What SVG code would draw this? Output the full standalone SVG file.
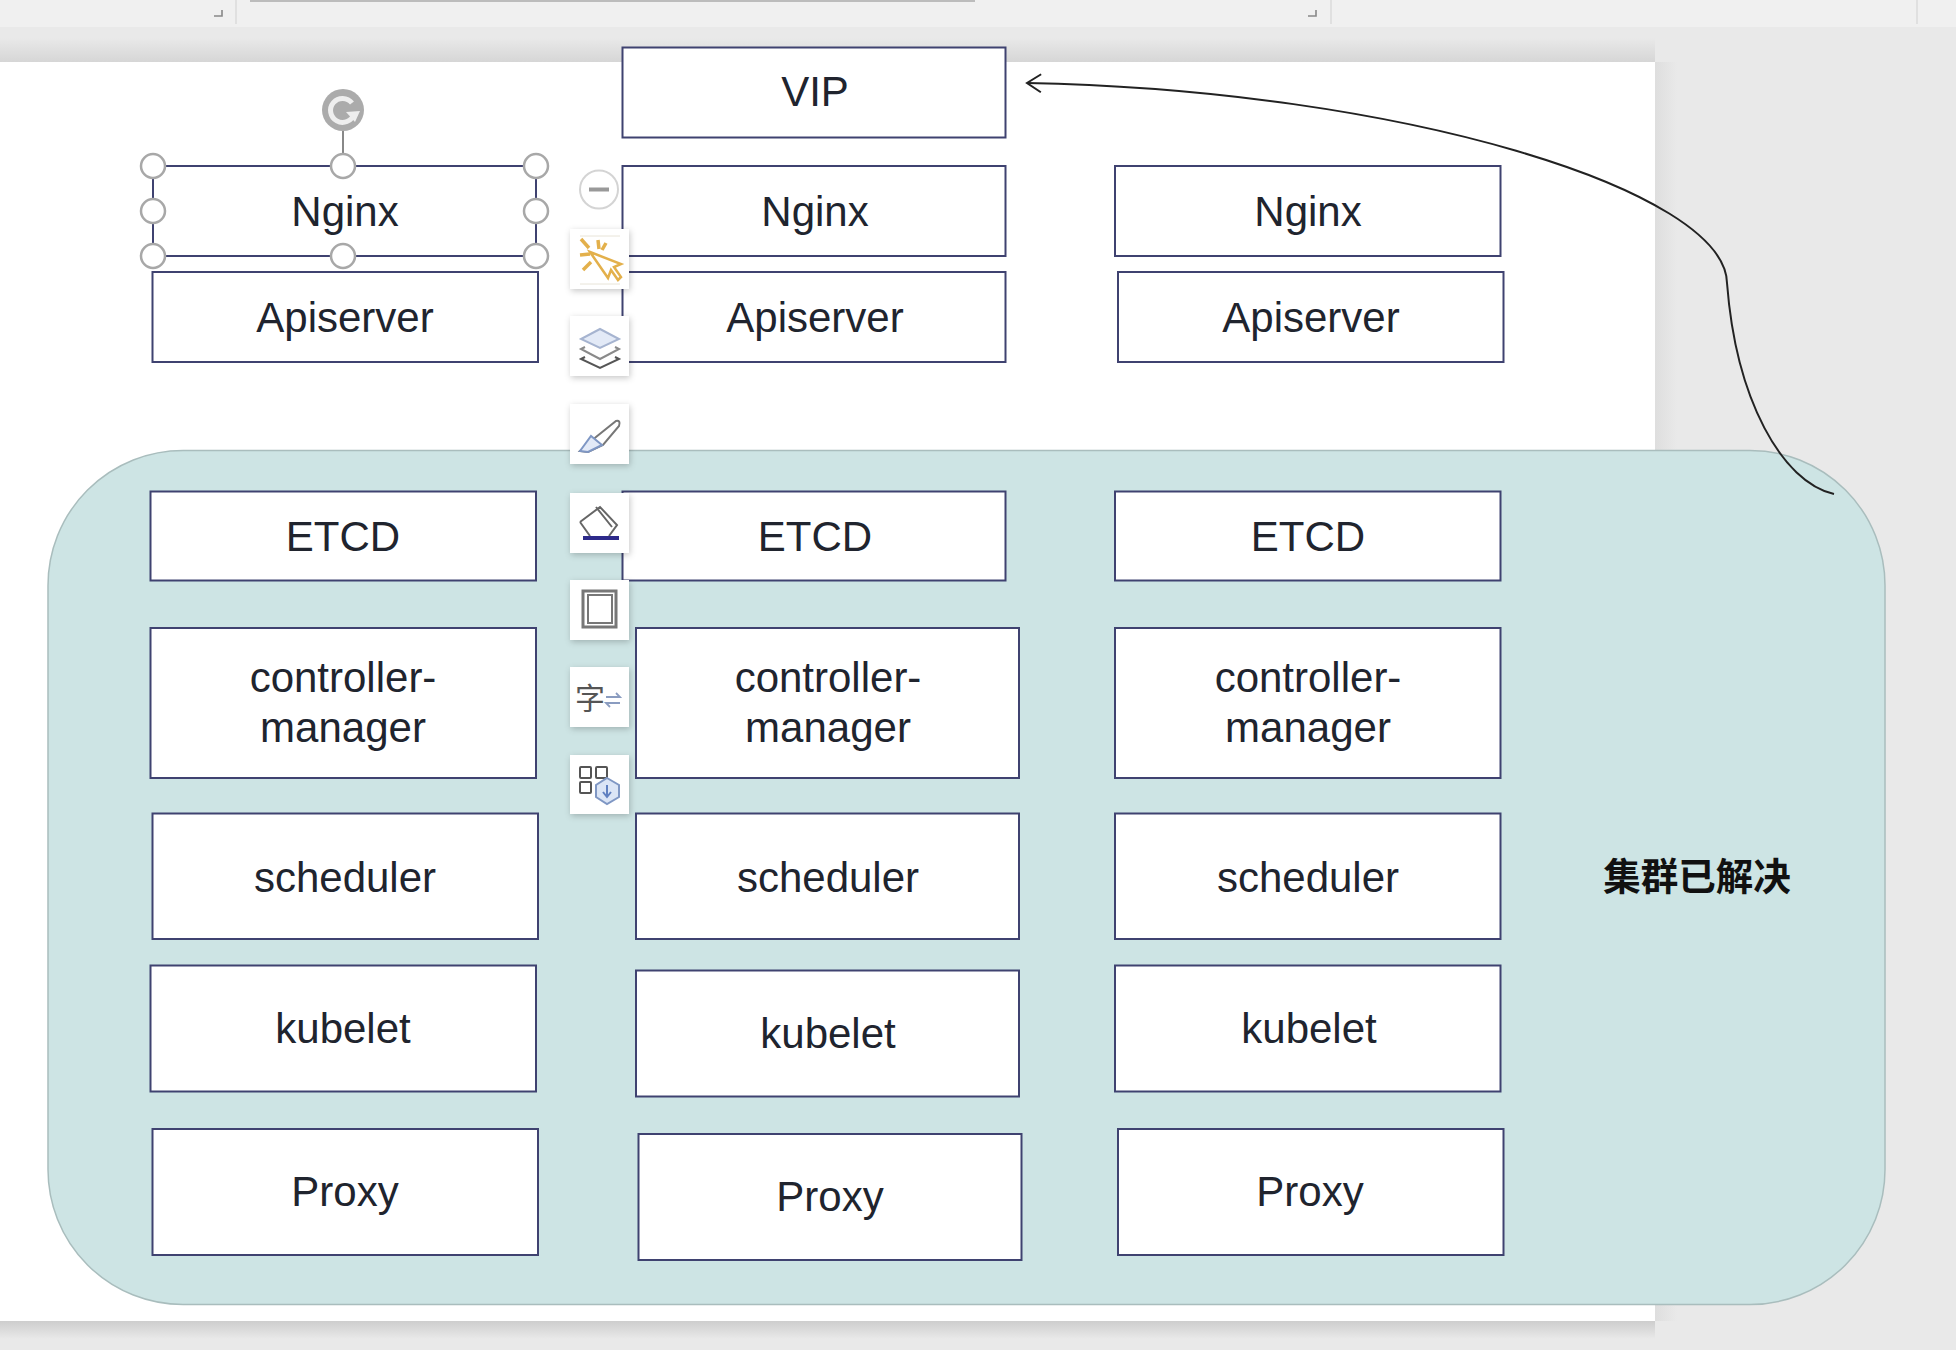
<svg xmlns="http://www.w3.org/2000/svg" width="1956" height="1350" viewBox="0 0 1956 1350">
<style>
.n{fill:#fff;stroke:#3f4270;stroke-width:2}
.t{font-family:"Liberation Sans",Arial,sans-serif;font-size:42px;fill:#20242e;text-anchor:middle}
.h{fill:#fff;stroke:#a8a8a8;stroke-width:2.5}
.tb{fill:#fff;filter:url(#sh)}
.i{fill:none;stroke:#555;stroke-width:2}
</style>
<defs>
<linearGradient id="gt" x1="0" y1="0" x2="0" y2="1"><stop offset="0" stop-color="#e9e9e9"/><stop offset="1" stop-color="#d6d6d6"/></linearGradient>
<linearGradient id="gb" x1="0" y1="0" x2="0" y2="1"><stop offset="0" stop-color="#cdcdcd"/><stop offset="1" stop-color="#e9e9e9"/></linearGradient>
<linearGradient id="gr" x1="0" y1="0" x2="1" y2="0"><stop offset="0" stop-color="#dedede"/><stop offset="1" stop-color="#e9e9e9"/></linearGradient>
<filter id="sh" x="-20%" y="-20%" width="140%" height="140%"><feDropShadow dx="1" dy="2" stdDeviation="3" flood-color="#000" flood-opacity="0.22"/></filter>
<marker id="arr" markerWidth="22" markerHeight="22" refX="20" refY="11" orient="auto" markerUnits="userSpaceOnUse"><path d="M6 2 L20 11 L6 20" fill="none" stroke="#222" stroke-width="2"/></marker>
</defs>
<g id="background">
<rect width="1956" height="1350" fill="#e9e9e9"/>
<rect width="1956" height="27" fill="#f0f0f0"/>
<rect x="250" y="0" width="725" height="2" fill="#bcbcbc"/>
<path d="M236 0V24M1331 0V24M1917 0V24" stroke="#e0e0e0" stroke-width="2" fill="none"/>
<path d="M222 10V16H214M1316 10V16H1308" stroke="#888" stroke-width="1.6" fill="none"/>
<rect x="0" y="38" width="1655" height="24" fill="url(#gt)"/>
<rect x="1655" y="62" width="22" height="1259" fill="url(#gr)"/>
<rect x="0" y="1321" width="1655" height="18" fill="url(#gb)"/>
<rect x="0" y="62" width="1655" height="1259" fill="#fff"/>
</g>
<g id="cluster">
<rect x="48" y="450.5" width="1837" height="854" rx="135" ry="135" fill="#cde4e4" stroke="#a9bdbd" stroke-width="1.5"/>
<text x="1697" y="890" style="font-family:'Noto Sans CJK SC',sans-serif;font-size:37.5px;font-weight:700;fill:#111;text-anchor:middle">集群已解决</text>
</g>
<g id="vip"><rect class="n" x="622.5" y="47.5" width="383" height="90"/><text class="t" x="815" y="106">VIP</text></g>
<g id="nginx-1"><rect class="n" x="153" y="166" width="383" height="90"/><text class="t" x="345" y="226">Nginx</text></g>
<g id="nginx-2"><rect class="n" x="622.5" y="166" width="383" height="90"/><text class="t" x="815" y="226">Nginx</text></g>
<g id="nginx-3"><rect class="n" x="1115" y="166" width="385.500" height="90"/><text class="t" x="1308" y="226">Nginx</text></g>
<g id="apiserver-1"><rect class="n" x="152.500" y="272" width="385.500" height="90"/><text class="t" x="345" y="332">Apiserver</text></g>
<g id="apiserver-2"><rect class="n" x="622.5" y="272" width="383" height="90"/><text class="t" x="815" y="332">Apiserver</text></g>
<g id="apiserver-3"><rect class="n" x="1118" y="272" width="385.500" height="90"/><text class="t" x="1311" y="332">Apiserver</text></g>
<g id="etcd-1"><rect class="n" x="150.500" y="491.500" width="385.500" height="89"/><text class="t" x="343" y="551">ETCD</text></g>
<g id="etcd-2"><rect class="n" x="622.5" y="491.500" width="383" height="89"/><text class="t" x="815" y="551">ETCD</text></g>
<g id="etcd-3"><rect class="n" x="1115" y="491.500" width="385.500" height="89"/><text class="t" x="1308" y="551">ETCD</text></g>
<g id="controller-manager-1"><rect class="n" x="150.500" y="628" width="385.500" height="150"/><text class="t" x="343" y="692">controller-</text><text class="t" x="343" y="742">manager</text></g>
<g id="controller-manager-2"><rect class="n" x="636" y="628" width="383" height="150"/><text class="t" x="828" y="692">controller-</text><text class="t" x="828" y="742">manager</text></g>
<g id="controller-manager-3"><rect class="n" x="1115" y="628" width="385.500" height="150"/><text class="t" x="1308" y="692">controller-</text><text class="t" x="1308" y="742">manager</text></g>
<g id="scheduler-1"><rect class="n" x="152.500" y="813.500" width="385.500" height="125.500"/><text class="t" x="345" y="892">scheduler</text></g>
<g id="scheduler-2"><rect class="n" x="636" y="813.500" width="383" height="125.500"/><text class="t" x="828" y="892">scheduler</text></g>
<g id="scheduler-3"><rect class="n" x="1115" y="813.500" width="385.500" height="125.500"/><text class="t" x="1308" y="892">scheduler</text></g>
<g id="kubelet-1"><rect class="n" x="150.500" y="965.500" width="385.500" height="126"/><text class="t" x="343" y="1043">kubelet</text></g>
<g id="kubelet-2"><rect class="n" x="636" y="970.500" width="383" height="126"/><text class="t" x="828" y="1048">kubelet</text></g>
<g id="kubelet-3"><rect class="n" x="1115" y="965.500" width="385.500" height="126"/><text class="t" x="1309" y="1043">kubelet</text></g>
<g id="proxy-1"><rect class="n" x="152.500" y="1129" width="385.500" height="126"/><text class="t" x="345" y="1206">Proxy</text></g>
<g id="proxy-2"><rect class="n" x="638.500" y="1134" width="383" height="126"/><text class="t" x="830" y="1211">Proxy</text></g>
<g id="proxy-3"><rect class="n" x="1118" y="1129" width="385.500" height="126"/><text class="t" x="1310" y="1206">Proxy</text></g>
<g id="connectors">
<path d="M1834 494 C1782 482 1736 400 1727 283 C1725 190 1400 90 1027 83" fill="none" stroke="#222" stroke-width="2" marker-end="url(#arr)"/>
</g>
<g id="selection-handles">
<line x1="343" y1="130" x2="343" y2="166" stroke="#888" stroke-width="2"/>
<circle cx="343" cy="110" r="21" fill="#ababab"/>
<path d="M352 103 A12 12 0 1 0 354 114" fill="none" stroke="#eee" stroke-width="5"/>
<path d="M346 112 L360 111 L355 122 Z" fill="#eee"/>
<circle class="h" cx="153" cy="166" r="12"/><circle class="h" cx="343" cy="166" r="12"/><circle class="h" cx="536" cy="166" r="12"/>
<circle class="h" cx="153" cy="211" r="12"/><circle class="h" cx="536" cy="211" r="12"/>
<circle class="h" cx="153" cy="256" r="12"/><circle class="h" cx="343" cy="256" r="12"/><circle class="h" cx="536" cy="256" r="12"/>
</g>
<g id="toolbar">
<circle cx="599" cy="189.500" r="19" fill="#fff" stroke="#d4d4d4" stroke-width="2"/>
<line x1="589" y1="189.500" x2="609" y2="189.500" stroke="#999" stroke-width="4"/>
<rect class="tb" x="570" y="229" width="59" height="60"/>
<rect class="tb" x="570" y="316" width="59" height="60"/>
<rect class="tb" x="570" y="404" width="59" height="60"/>
<rect class="tb" x="570" y="493" width="59" height="60"/>
<rect class="tb" x="570" y="580" width="59" height="60"/>
<rect class="tb" x="570" y="667" width="59" height="60"/>
<rect class="tb" x="570" y="755" width="59" height="59"/>
<g fill="none" stroke="#e3b04b" stroke-width="2.500">
<path d="M590 252 L608 278 L611 270 L618 280 L621 277 L614 267 L621 264 Z"/>
<path d="M581 239 L589 248M598 240 L599 249M580 255 L590 254M583 270 L591 262M606 243 L602 250" stroke-width="3.500"/>
<path d="M580 236 H620M580 284 H620" stroke="#e8e4d8" stroke-width="1"/>
</g>
<g fill="none" stroke="#555" stroke-width="2">
<path d="M600 329 L619 339 L600 348 L581 339 Z" fill="#e3eaf7" stroke="#a6b4d0"/>
<path d="M585 347 L581 349 L600 359 L619 349 L615 347" stroke="#8a8a8a"/>
<path d="M585 357 L581 359 L600 368 L619 359 L615 357"/>
</g>
<path d="M580 451 L596 437 L616 421 Q621 420 619 426 L603 445 L588 452 Z" fill="#fff" stroke="#777" stroke-width="2"/>
<path d="M580 451 L591 436 L602 445 L588 452 Z" fill="#e3eaf7" stroke="#7f97c4" stroke-width="2"/>
<g fill="none" stroke="#666" stroke-width="2">
<path d="M580 522 L600 507 L617 525 L609 536M580 522 L590 536M596 507 L612 527"/>
</g>
<rect x="583" y="536" width="36" height="4" fill="#2d2a8a"/>
<rect x="583" y="591" width="33" height="36" fill="none" stroke="#777" stroke-width="3"/>
<rect x="588" y="595" width="24" height="28" fill="none" stroke="#777" stroke-width="2"/>
<text x="590" y="709" style="font-family:'Noto Sans CJK SC',sans-serif;font-size:30px;fill:#555;text-anchor:middle">字</text>
<path d="M606 697 H620 L616 693M620 703 H606 L610 707" fill="none" stroke="#8a9cc0" stroke-width="1.800"/>
<g fill="none" stroke="#555" stroke-width="2">
<rect x="580" y="767" width="11" height="11" rx="1"/><rect x="596" y="767" width="11" height="11" rx="1"/><rect x="580" y="782" width="11" height="11" rx="1"/>
<path d="M607 778 L619 785 V797 L607 804 L596 797 V785 Z" fill="#dbe5f6" stroke="#7f97c4"/>
<path d="M607 785 V796 M603 792 L607 797 L611 792" stroke="#5f7fc0"/>
</g>
</g>
</svg>
